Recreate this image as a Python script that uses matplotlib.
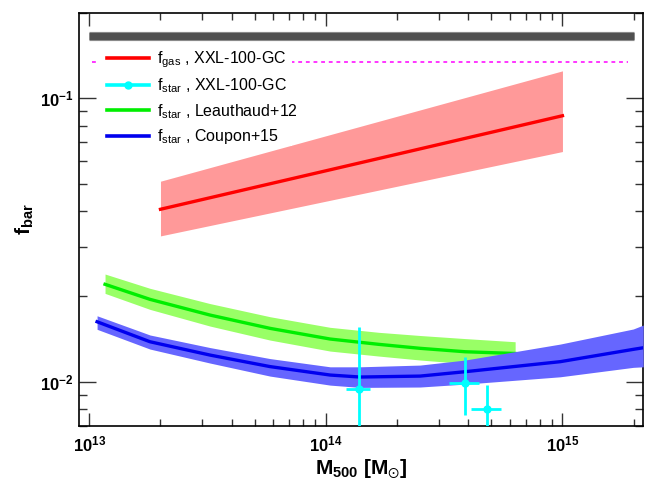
import matplotlib
matplotlib.use('Agg')
import matplotlib.pyplot as plt
from matplotlib.lines import Line2D
from matplotlib.patches import Rectangle
from matplotlib.ticker import LogLocator, FuncFormatter, NullFormatter
import numpy as np

plt.rcParams['font.family'] = ['Liberation Sans', 'DejaVu Sans']
plt.rcParams['mathtext.default'] = 'regular'

# --- f_gas, XXL-100-GC (power law, straight in log-log) ---
gas_mass = [2e13, 1e15]
gas_f = [0.0406, 0.0868]
gas_lo = [0.0327, 0.0649]
gas_hi = [0.051, 0.125]

# --- f_star, Leauthaud+12 ---
lea_mass = [1.166e13, 1.806e13, 3.239e13, 5.808e13, 1.042e14, 1.674e14, 2.502e14, 3.88e14, 6.31e14]
lea_f = [0.02207, 0.01953, 0.01719, 0.01543, 0.01415, 0.01355, 0.01312, 0.01276, 0.01258]
lea_hi = [0.02399, 0.02136, 0.01887, 0.01696, 0.01556, 0.01494, 0.01456, 0.01420, 0.01384]
lea_lo = [0.02050, 0.01800, 0.01572, 0.01403, 0.01283, 0.01232, 0.01193, 0.01159, 0.01145]

# --- f_star, Coupon+15 ---
cou_mass = [1.079e13, 1.806e13, 3.239e13, 5.808e13, 1.042e14, 1.395e14, 2.502e14, 3.88e14,
            9.78e14, 1.992e15, 2.195e15]
cou_f = [0.01628, 0.01384, 0.01242, 0.01131, 0.01056, 0.01039, 0.01047, 0.01085,
         0.01177, 0.01301, 0.01318]
cou_hi = [0.01709, 0.01462, 0.01320, 0.01207, 0.01129, 0.01129, 0.01145, 0.01193,
          0.01358, 0.01535, 0.01585]
cou_lo = [0.01531, 0.01304, 0.01164, 0.01047, 0.00973, 0.00955, 0.00958, 0.00981,
          0.01041, 0.01124, 0.01129]

# --- f_star, XXL-100-GC points ---
pts_mass = [1.38e14, 3.88e14, 4.81e14]
pts_mass_lo = [1.22e14, 3.33e14, 4.10e14]
pts_mass_hi = [1.53e14, 4.46e14, 5.50e14]
pts_f = [0.00945, 0.00992, 0.00803]
pts_f_lo = [0.0060, 0.00763, 0.0060]
pts_f_hi = [0.0156, 0.0122, 0.0097]

# --- horizontal reference levels ---
bar_level = 0.166
bar_range = [1e13, 2e15]
cosmic_level = 0.134
cosmic_range = [1.03e13, 1.9e15]

fig = plt.figure(figsize=(6.47, 4.79), dpi=100)
ax = fig.add_axes([79 / 647, 53 / 479, 564 / 647, 413 / 479])
ax.set_xscale('log')
ax.set_yscale('log')
ax.set_xlim(9.05e12, 2.19e15)
ax.set_ylim(0.00698, 0.2)

# gray bar and magenta dotted line
ax.plot(bar_range, [bar_level] * 2, color='#8a8a8a', lw=6.6, solid_capstyle='butt', zorder=2)
ax.plot(bar_range, [bar_level] * 2, color='#505050', lw=5.0, solid_capstyle='butt', zorder=2)
ax.plot(cosmic_range, [cosmic_level] * 2, color='magenta', lw=1.1,
        linestyle=(0, (2.5, 2.5)), zorder=2)

# gas fraction
ax.fill_between(gas_mass, gas_lo, gas_hi, color='#ff9999', lw=0, zorder=3)
ax.plot(gas_mass, gas_f, color='red', lw=2.4, zorder=4)

# Leauthaud
ax.fill_between(lea_mass, lea_lo, lea_hi, color='#99ff66', lw=0, zorder=3)
ax.plot(lea_mass, lea_f, color='#00ee00', lw=2.4, zorder=4)

# Coupon
ax.fill_between(cou_mass, cou_lo, cou_hi, color='#6666ff', lw=0, zorder=5)
ax.plot(cou_mass, cou_f, color='#0000ee', lw=2.4, zorder=6)

# XXL points
pts_mass = np.array(pts_mass)
pts_f = np.array(pts_f)
xerr = [pts_mass - np.array(pts_mass_lo), np.array(pts_mass_hi) - pts_mass]
yerr = [pts_f - np.array(pts_f_lo), np.array(pts_f_hi) - pts_f]
ax.errorbar(pts_mass, pts_f, xerr=xerr, yerr=yerr, fmt='o', color='cyan',
            ms=5, elinewidth=2.0, capsize=0, zorder=7)

# ticks
ax.xaxis.set_major_locator(LogLocator(base=10, numticks=10))
ax.xaxis.set_minor_locator(LogLocator(base=10, subs=np.arange(2, 10), numticks=10))
ax.yaxis.set_major_locator(LogLocator(base=10, numticks=10))
ax.yaxis.set_minor_locator(LogLocator(base=10, subs=np.arange(2, 10), numticks=10))


def pow_fmt(v, pos):
    e = int(round(np.log10(v)))
    return r'10$^{%d}$' % e


ax.xaxis.set_major_formatter(FuncFormatter(pow_fmt))
ax.yaxis.set_major_formatter(FuncFormatter(pow_fmt))
ax.xaxis.set_minor_formatter(NullFormatter())
ax.yaxis.set_minor_formatter(NullFormatter())

ax.tick_params(which='both', direction='in', top=True, right=True, width=1.0, color='#333333')
ax.tick_params(axis='x', which='major', length=9.5, pad=6)
ax.tick_params(axis='x', which='minor', length=5)
ax.tick_params(axis='y', which='major', length=12, pad=4)
ax.tick_params(axis='y', which='minor', length=6)
for lab in ax.get_xticklabels() + ax.get_yticklabels():
    lab.set_fontweight('bold')
    lab.set_fontsize(12)
for s in ax.spines.values():
    s.set_linewidth(1.2)

ax.set_xlabel(r'M$_{500}$ [M$_{\odot}$]', fontsize=15, fontweight='bold', labelpad=2)
ax.set_ylabel(r'f$_{bar}$', fontsize=15, fontweight='bold', labelpad=3)

# white legend panel (hides the dotted line behind the legend)
ax.add_patch(Rectangle((0.032, 0.678), 0.346, 0.252, transform=ax.transAxes,
                       facecolor='white', edgecolor='none', zorder=9))

handles = [
    Line2D([], [], color='red', lw=2.6),
    Line2D([], [], color='cyan', lw=2.6, marker='o', ms=5),
    Line2D([], [], color='#00ee00', lw=2.6),
    Line2D([], [], color='#0000ee', lw=2.6),
]
labels = [r'f$_{gas}$ , XXL-100-GC', r'f$_{star}$ , XXL-100-GC',
          r'f$_{star}$ , Leauthaud+12', r'f$_{star}$ , Coupon+15']
leg = ax.legend(handles, labels, loc='upper left', bbox_to_anchor=(0.0496, 0.912),
                fontsize=11.5, frameon=False, handlelength=2.6,
                handletextpad=0.55, labelspacing=0.42, borderpad=0, borderaxespad=0)
leg.set_zorder(10)

fig.savefig('out.png', dpi=100)
